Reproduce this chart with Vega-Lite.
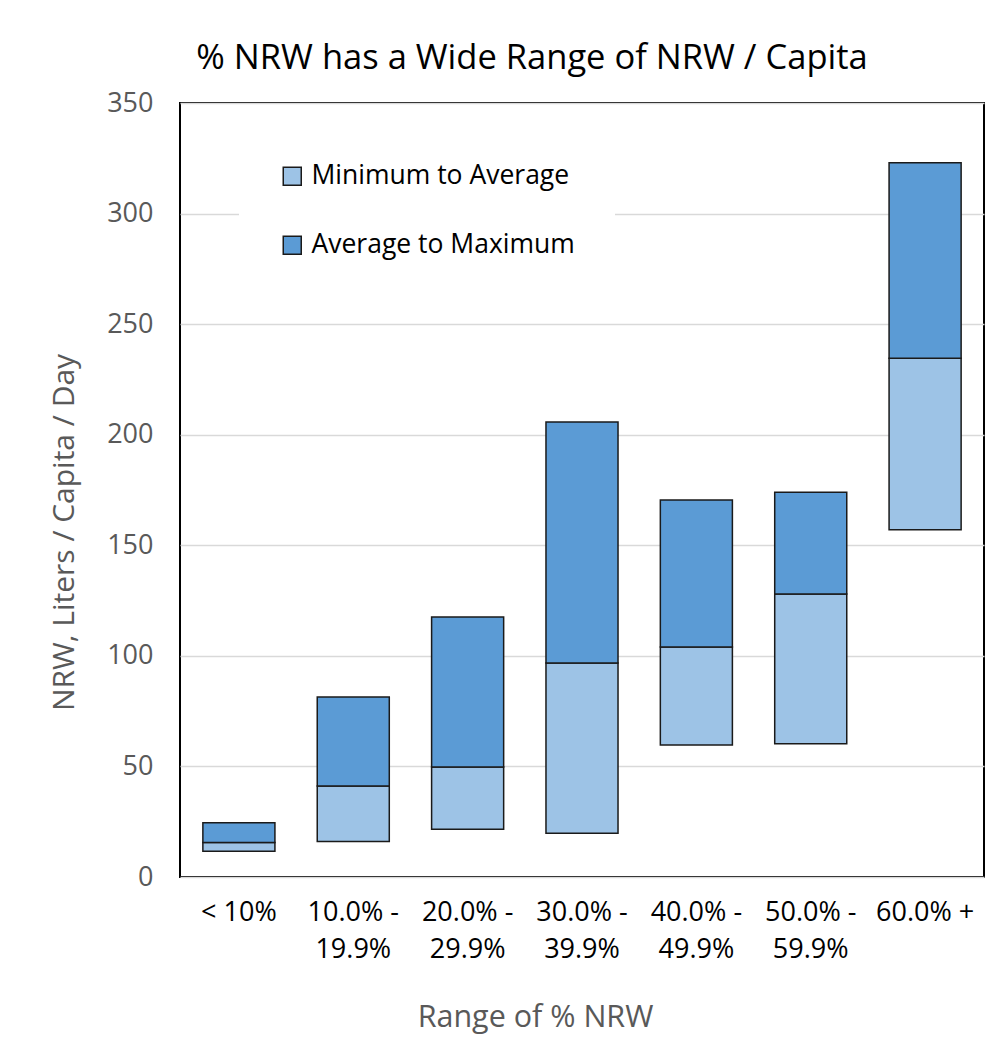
{
  "$schema": "https://vega.github.io/schema/vega-lite/v6.json",
  "autosize": {"type": "none"},
  "width": 804,
  "height": 774,
  "padding": {"left": 180, "top": 103, "right": 13, "bottom": 184},
  "background": "white",
  "title": {
    "text": "% NRW has a Wide Range of NRW / Capita",
    "font": "Open Sans",
    "fontSize": 34.5,
    "fontWeight": "normal",
    "color": "black",
    "anchor": "middle",
    "dx": -50,
    "offset": 13
  },
  "data": {
    "values": [
      {"range": "< 10%", "series": "Minimum to Average", "lo": 11.7, "hi": 15.6},
      {"range": "< 10%", "series": "Average to Maximum", "lo": 15.6, "hi": 24.5},
      {"range": "10.0% -|19.9%", "series": "Minimum to Average", "lo": 16.1, "hi": 41.2},
      {"range": "10.0% -|19.9%", "series": "Average to Maximum", "lo": 41.2, "hi": 81.4},
      {"range": "20.0% -|29.9%", "series": "Minimum to Average", "lo": 21.6, "hi": 49.7},
      {"range": "20.0% -|29.9%", "series": "Average to Maximum", "lo": 49.7, "hi": 117.6},
      {"range": "30.0% -|39.9%", "series": "Minimum to Average", "lo": 19.8, "hi": 96.8},
      {"range": "30.0% -|39.9%", "series": "Average to Maximum", "lo": 96.8, "hi": 205.8},
      {"range": "40.0% -|49.9%", "series": "Minimum to Average", "lo": 59.7, "hi": 104},
      {"range": "40.0% -|49.9%", "series": "Average to Maximum", "lo": 104, "hi": 170.5},
      {"range": "50.0% -|59.9%", "series": "Minimum to Average", "lo": 60.2, "hi": 128},
      {"range": "50.0% -|59.9%", "series": "Average to Maximum", "lo": 128, "hi": 174},
      {"range": "60.0% +", "series": "Minimum to Average", "lo": 157, "hi": 234.6},
      {"range": "60.0% +", "series": "Average to Maximum", "lo": 234.6, "hi": 323}
    ]
  },
  "mark": {"type": "bar", "stroke": "#1a1a1a", "strokeWidth": 1.5},
  "encoding": {
    "x": {
      "field": "range",
      "type": "nominal",
      "sort": null,
      "scale": {"paddingInner": 0.37, "paddingOuter": 0.2},
      "axis": {
        "title": "Range of % NRW",
        "labelAngle": 0,
        "labelExpr": "split(datum.value, '|')",
        "labelFont": "Open Sans",
        "labelFontSize": 27,
        "labelColor": "black",
        "labelPadding": 22,
        "labelLineHeight": 37,
        "ticks": false,
        "domain": false,
        "titleFont": "Open Sans",
        "titleFontSize": 30.5,
        "titleFontWeight": "normal",
        "titleColor": "#595959",
        "titlePadding": 40,
        "titleX": 355
      }
    },
    "y": {
      "field": "lo",
      "type": "quantitative",
      "scale": {"domain": [0, 350]},
      "axis": {
        "title": "NRW, Liters / Capita / Day",
        "values": [0, 50, 100, 150, 200, 250, 300, 350],
        "labelFont": "Open Sans",
        "labelFontSize": 27,
        "labelColor": "#595959",
        "labelPadding": 27,
        "ticks": false,
        "domain": false,
        "gridColor": "#d9d9d9",
        "gridWidth": 1.5,
        "titleFont": "Open Sans",
        "titleFontSize": 30,
        "titleFontWeight": "normal",
        "titleColor": "#595959",
        "titlePadding": 27,
        "titleY": 429
      }
    },
    "y2": {"field": "hi"},
    "fill": {
      "field": "series",
      "type": "nominal",
      "sort": ["Minimum to Average", "Average to Maximum"],
      "scale": {"domain": ["Minimum to Average", "Average to Maximum"], "range": ["#9DC3E6", "#5B9BD5"]},
      "legend": {
        "title": null,
        "orient": "none",
        "legendX": 59,
        "legendY": 20,
        "padding": 40,
        "fillColor": "white",
        "symbolType": "square",
        "symbolSize": 324,
        "symbolStrokeColor": "#1a1a1a",
        "symbolStrokeWidth": 1.5,
        "labelFont": "Open Sans",
        "labelFontSize": 26.5,
        "labelColor": "black",
        "labelOffset": 6,
        "rowPadding": 42,
        "labelLimit": 400
      }
    }
  },
  "config": {
    "view": {"stroke": "black", "strokeWidth": 2}
  }
}
